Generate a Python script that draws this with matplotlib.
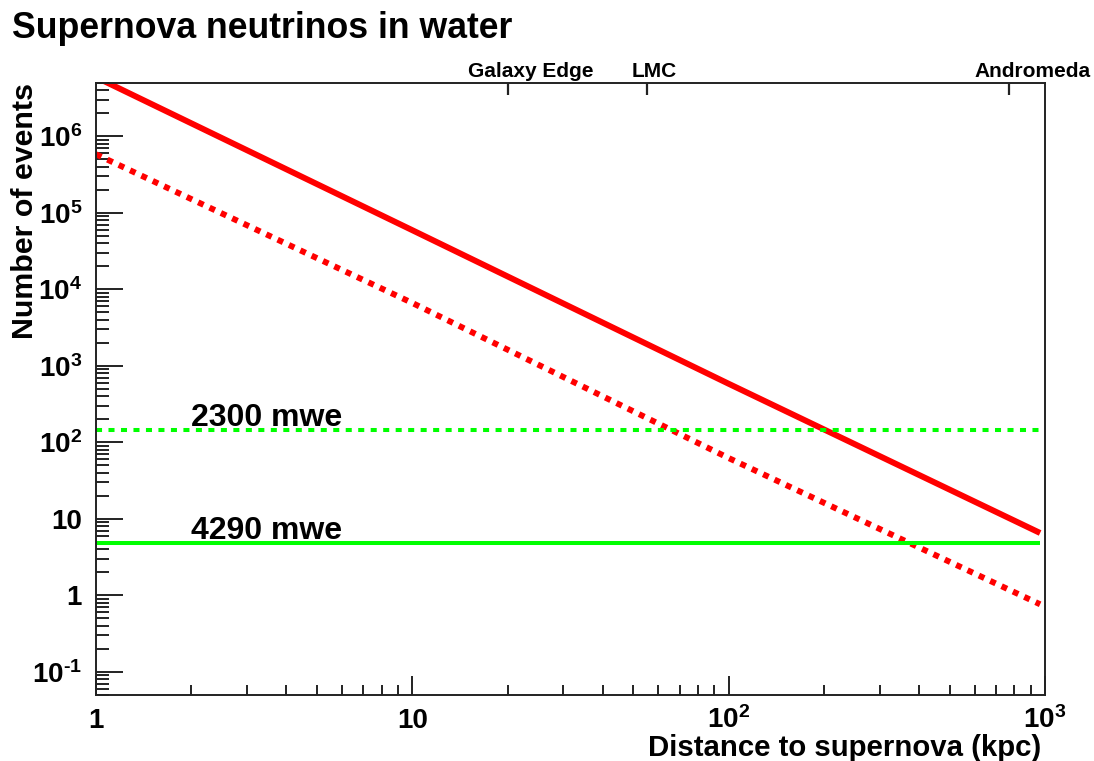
import math
import matplotlib
matplotlib.use('Agg')
import matplotlib.pyplot as plt
from matplotlib.ticker import FixedLocator, NullFormatter, FuncFormatter

# values
distance_kpc = [1, 10, 100, 965]
events_all = [5.9e6, 5.9e4, 5.8e2, 6.5]
events_cut = [5.8e5, 6.6e3, 62, 0.76]
threshold_2300 = 145
threshold_4290 = 4.8
threshold_names = ['2300 mwe', '4290 mwe']
landmark_names = ['Galaxy Edge', 'LMC', 'Andromeda']
landmark_kpc = [20, 55, 770]
x_major = [1, 10, 100, 1000]
x_major_labels = ['1', '10', r'$10^{2}$', r'$10^{3}$']
y_major = [1e-1, 1, 10, 1e2, 1e3, 1e4, 1e5, 1e6]

plt.rcParams['font.family'] = ['Liberation Sans', 'DejaVu Sans']
plt.rcParams['font.weight'] = 'bold'
plt.rcParams['mathtext.fontset'] = 'custom'
plt.rcParams['mathtext.rm'] = 'Liberation Sans:bold'
plt.rcParams['mathtext.it'] = 'Liberation Sans:bold'
plt.rcParams['mathtext.bf'] = 'Liberation Sans:bold'
plt.rcParams['mathtext.default'] = 'rm'
plt.rcParams['axes.unicode_minus'] = False

W, H = 1094, 761
fig = plt.figure(figsize=(W / 100, H / 100), dpi=100)
ax = fig.add_axes([96 / W, (H - 694.7) / H, 949 / W, 612 / H])

ax.set_xscale('log')
ax.set_yscale('log')
ax.set_xlim(1, 1000)
ax.set_ylim(0.05, 5e6)

red = '#ff0000'
green = '#00ff00'
ax.plot(distance_kpc, events_all, color=red, lw=4.3, solid_capstyle='butt')
ax.plot(distance_kpc, events_cut, color=red, lw=4.3, linestyle=(0, (1.0, 1.1)),
        dash_capstyle='butt')
gx = [distance_kpc[0], distance_kpc[-1]]
ax.plot(gx, [threshold_2300] * 2, color=green, lw=2.9, linestyle=(0, (1.5, 1.6)),
        dash_capstyle='butt')
ax.plot(gx, [threshold_4290] * 2, color=green, lw=2.9, solid_capstyle='butt')

for name, val in zip(threshold_names, [threshold_2300, threshold_4290]):
    ax.annotate(name, (2, val), xytext=(0, 3), textcoords='offset points',
                fontsize=23, ha='left', va='baseline')

# axes frame / ticks (ROOT style)
for sp in ax.spines.values():
    sp.set_linewidth(1.4)
    sp.set_color('#222222')
ax.yaxis.set_major_locator(FixedLocator(y_major))
ax.yaxis.set_minor_locator(FixedLocator([m * d for d in [1e-2, 1e-1, 1, 10, 1e2, 1e3, 1e4, 1e5, 1e6]
                                         for m in range(2, 10)]))


def ylab(v, pos):
    if v == 1:
        return '1'
    if v == 10:
        return '10'
    e = int(round(math.log10(v)))
    if e < 0:
        return r'$10^{\text{-}%d}$' % (-e)
    return r'$10^{%d}$' % e


ax.yaxis.set_major_formatter(FuncFormatter(ylab))
ax.yaxis.set_minor_formatter(NullFormatter())
ax.xaxis.set_major_locator(FixedLocator(x_major))
ax.xaxis.set_minor_locator(FixedLocator([m * d for d in [1, 10, 100] for m in range(2, 10)]))
ax.xaxis.set_major_formatter(NullFormatter())
ax.xaxis.set_minor_formatter(NullFormatter())

ax.tick_params(axis='y', which='major', direction='in', length=19.4, width=1.4,
               labelsize=20, pad=10, colors='#222222', labelcolor='black')
ax.tick_params(axis='y', which='minor', direction='in', length=9.4, width=1.4,
               colors='#222222')
ax.tick_params(axis='x', which='major', direction='in', length=14, width=1.4,
               colors='#222222')
ax.tick_params(axis='x', which='minor', direction='in', length=7, width=1.4,
               colors='#222222')

for xv, lab in zip(x_major, x_major_labels):
    ax.text(xv, -0.055, lab, transform=ax.get_xaxis_transform(), ha='center',
            va='baseline', fontsize=20)

# landmark ticks on top
ax2 = ax.twiny()
ax2.set_xscale('log')
ax2.set_xlim(ax.get_xlim())
ax2.xaxis.set_major_locator(FixedLocator(landmark_kpc))
ax2.xaxis.set_minor_locator(FixedLocator([]))
ax2.xaxis.set_major_formatter(NullFormatter())
ax2.tick_params(axis='x', which='major', direction='in', length=8.6, width=1.6,
                colors='#222222')
for sp in ax2.spines.values():
    sp.set_visible(False)
for name, xl in zip(landmark_names, [15, 49.5, 600]):
    ax.text(xl, 1.0093, name, transform=ax.get_xaxis_transform(), ha='left',
            va='baseline', fontsize=15)

fig.text(12 / W, 1 - 38 / H, 'Supernova neutrinos in water', fontsize=25.7,
         ha='left', va='baseline')
fig.text(1041 / W, 1 - 756 / H, 'Distance to supernova (kpc)', fontsize=21.2,
         ha='right', va='baseline')
fig.text(25 / W, 1 - 83 / H, 'Number of events', fontsize=21.9, rotation=90,
         ha='center', va='top')

fig.savefig('out.png', dpi=100, facecolor='w')
